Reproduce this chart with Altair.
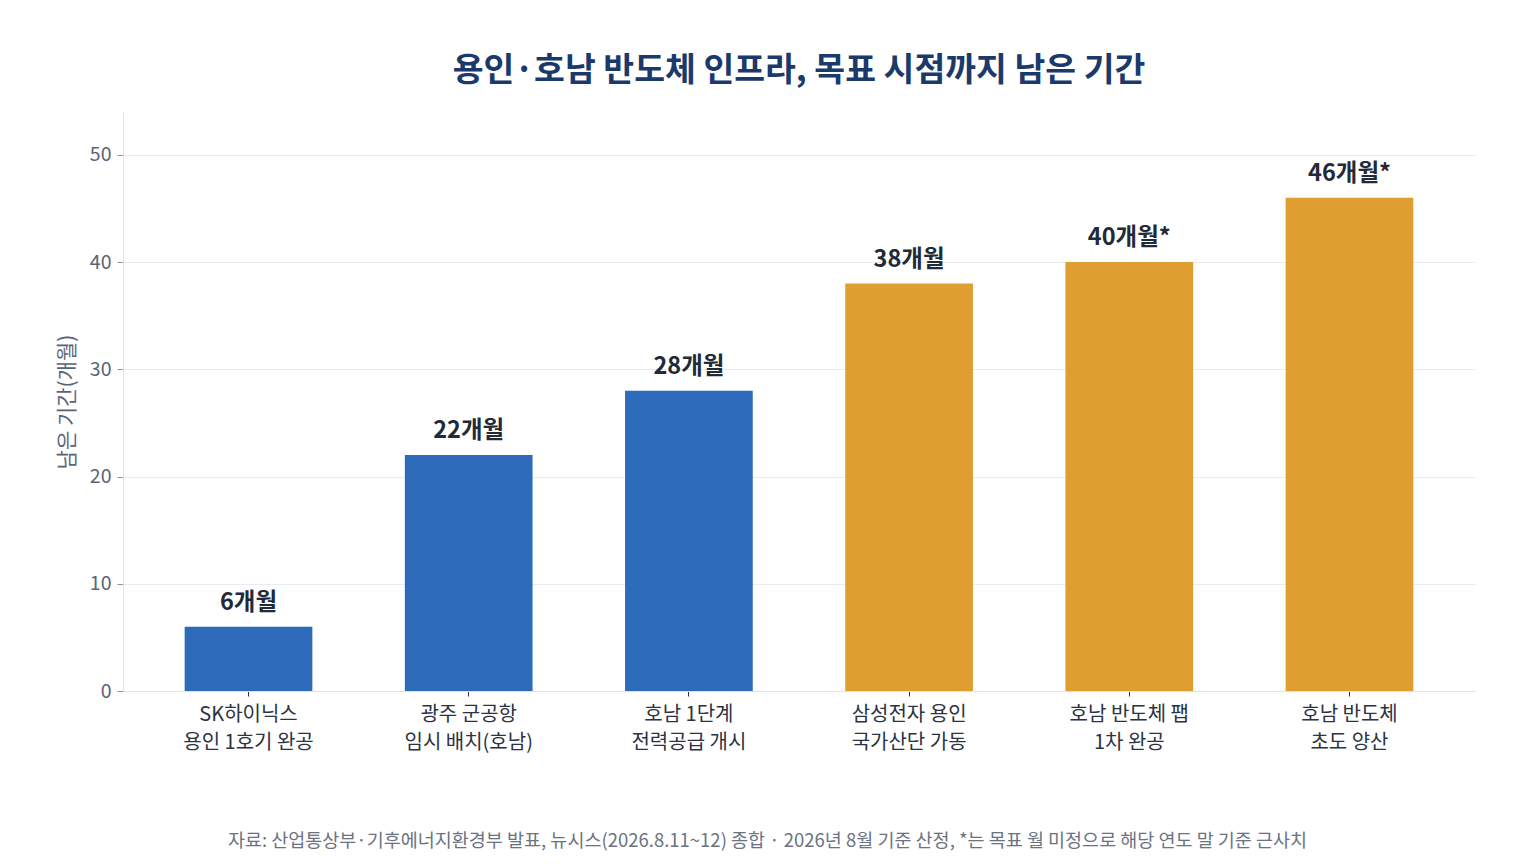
import altair as alt
import pandas as pd

categories = ["SK하이닉스|용인 1호기 완공", "광주 군공항|임시 배치(호남)", "호남 1단계|전력공급 개시",
              "삼성전자 용인|국가산단 가동", "호남 반도체 팹|1차 완공", "호남 반도체|초도 양산"]
months = [6, 22, 28, 38, 40, 46]
labels = ["6개월", "22개월", "28개월", "38개월", "40개월*", "46개월*"]
groups = ["A", "A", "A", "B", "B", "B"]

df = pd.DataFrame({"cat": categories, "months": months, "label": labels, "group": groups})

FONT = "Noto Sans CJK KR"
footer = "자료: 산업통상부·기후에너지환경부 발표, 뉴시스(2026.8.11~12) 종합  ·  2026년 8월 기준 산정, *는 목표 월 미정으로 해당 연도 말 기준 근사치"

x = alt.X("cat:N", sort=categories,
          scale=alt.Scale(paddingInner=0.42, paddingOuter=0.28),
          axis=alt.Axis(title=footer, labelExpr="split(datum.label, '|')", labelAngle=0,
                        labelFont=FONT, labelFontSize=20, labelColor="#2b3342", labelLineHeight=28,
                        labelPadding=8, tickColor="#2b3342", tickSize=5, domainColor="#dde2ea",
                        titleFont=FONT, titleFontSize=18.5, titleFontWeight="normal", titleColor="#6b7382",
                        titleX=644, titleY=149, titleAnchor="middle", titleAlign="center",
                        titleBaseline="middle"))

bars = alt.Chart(df).mark_bar().encode(
    x=x,
    y=alt.Y("months:Q", scale=alt.Scale(domain=[0, 54], nice=False),
            axis=alt.Axis(title="남은 기간(개월)", values=[0, 10, 20, 30, 40, 50],
                          labelFont=FONT, labelFontSize=19.5, labelColor="#5a6478", labelPadding=6,
                          tickColor="#8a93a3", tickSize=6, domainColor="#dde2ea",
                          gridColor="#e8ecf2", titleFont=FONT, titleFontSize=21,
                          titleFontWeight="normal", titleColor="#5a6478", titlePadding=12)),
    color=alt.Color("group:N", scale=alt.Scale(domain=["A", "B"], range=["#2e6bba", "#df9f30"]), legend=None),
)

text = alt.Chart(df).mark_text(font=FONT, fontSize=23.5, fontWeight="bold", color="#222a38",
                               baseline="bottom", dy=-12).encode(
    x=alt.X("cat:N", sort=categories),
    y="months:Q",
    text="label:N",
)

chart = alt.layer(bars, text).properties(
    width=1352, height=579,
    title=alt.Title("용인·호남 반도체 인프라, 목표 시점까지 남은 기간", font=FONT, fontSize=33.5,
                    fontWeight="bold", color="#1b3a6b", anchor="middle", offset=24),
    autosize=alt.AutoSizeParams(type="none"),
    padding={"left": 115, "top": 104, "right": 53, "bottom": 165},
).configure_view(stroke=None).configure_axis(grid=True).configure_axisX(grid=False)

chart.save("out.html", embed_options={"renderer": "svg", "actions": False})
